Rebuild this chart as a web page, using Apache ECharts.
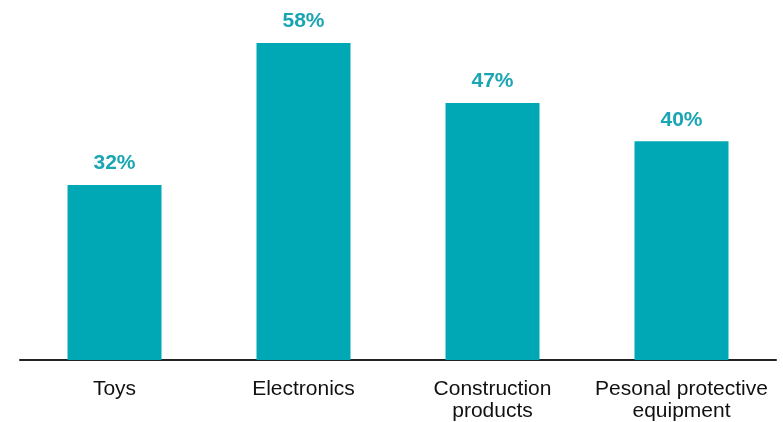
<!DOCTYPE html>
<html>
<head>
<meta charset="utf-8">
<script src="https://cdn.jsdelivr.net/npm/echarts@6/dist/echarts.min.js"></script>
<style>html,body{margin:0;padding:0;background:#fff;}#c{width:783px;height:422px;}</style>
</head>
<body>
<div id="c"></div>
<script>
var categories = ['Toys', 'Electronics', 'Construction\nproducts', 'Pesonal protective\nequipment'];
var values = [32, 58, 47, 40];

var chart = echarts.init(document.getElementById('c'), null, {renderer: 'canvas'});
chart.setOption({
  animation: false,
  grid: {left: 20, right: 7, top: 32, bottom: 60, containLabel: false},
  xAxis: {
    type: 'category',
    data: categories,
    axisLine: {show: true, lineStyle: {color: '#222', width: 2}},
    axisTick: {show: false},
    axisLabel: {
      color: '#111',
      fontFamily: '"Liberation Sans", Arial, sans-serif',
      fontSize: 21,
      margin: 18,
      lineHeight: 22,
      interval: 0
    }
  },
  yAxis: {
    type: 'value',
    min: 0,
    max: 60,
    show: false,
    splitLine: {show: false}
  },
  series: [{
    type: 'bar',
    data: values,
    barWidth: 94,
    itemStyle: {color: '#00A8B5'},
    label: {
      show: true,
      position: 'top',
      distance: 11,
      formatter: '{c}%',
      color: '#1AA5B3',
      fontWeight: 'bold',
      fontSize: 21,
      fontFamily: '"Liberation Sans", Arial, sans-serif'
    }
  }]
});
</script>
</body>
</html>
